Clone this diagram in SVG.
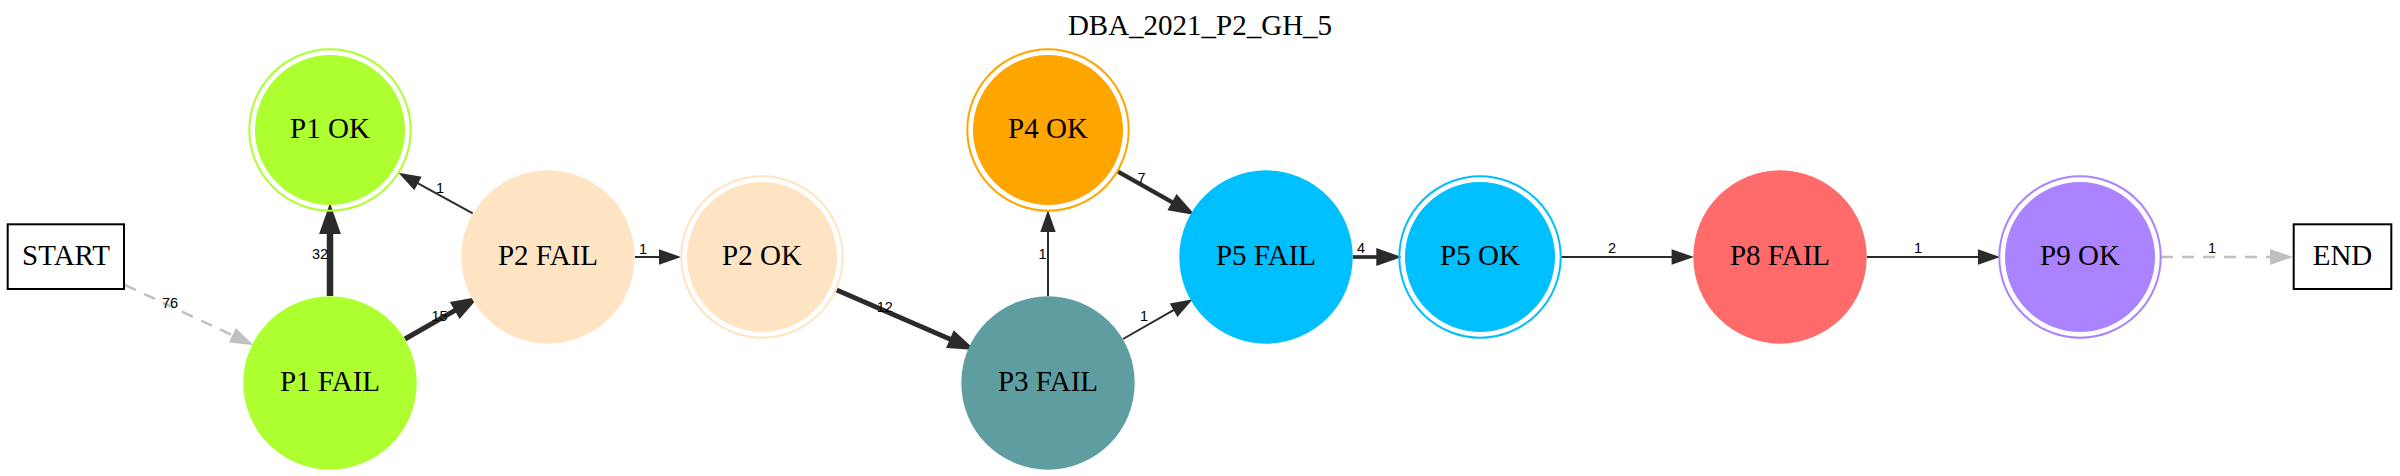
<svg xmlns="http://www.w3.org/2000/svg" width="2400" height="476" viewBox="0 0 2400 476">
<style>
  .lbl{font-family:"Liberation Serif","Times New Roman",serif;font-size:29px;fill:#000;text-anchor:middle}
  .elbl{font-family:"Liberation Sans",Arial,sans-serif;font-size:14.5px;fill:#000;text-anchor:middle}
  .e{fill:none;stroke:#2b2b2b}
  .ah{fill:#2b2b2b;stroke:#2b2b2b;stroke-linejoin:miter}
  .d{fill:none;stroke:#c0c0c0;stroke-width:2.5;stroke-dasharray:12 9}
  .dh{fill:#c0c0c0;stroke:#c0c0c0;stroke-width:2.5;stroke-linejoin:miter}
  .box{fill:#fff;stroke:#000;stroke-width:2}
</style>
<rect width="2400" height="476" fill="#fff"/>
<text class="lbl" x="1200" y="35">DBA_2021_P2_GH_5</text>

<g id="edges">
  <g id="e_start_p1fail">
    <path class="d" d="M125,285 L233.55,335.76"/>
    <polygon class="dh" points="249.86,343.39 230.88,341.47 236.22,330.05"/>
    <text class="elbl" x="170" y="307.5">76</text>
  </g>
  <g id="e_p1fail_p1ok">
    <path class="e" stroke-width="6.5" d="M330,296 L330,230.75"/>
    <polygon class="ah" stroke-width="6.5" points="330,212.75 336.3,230.75 323.7,230.75"/>
    <text class="elbl" x="320" y="259">32</text>
  </g>
  <g id="e_p1fail_p2fail">
    <path class="e" stroke-width="5" d="M405,339 L456.86,309.35"/>
    <polygon class="ah" stroke-width="5" points="472.49,300.42 459.99,314.82 453.73,303.88"/>
    <text class="elbl" x="439.5" y="321">15</text>
  </g>
  <g id="e_p2fail_p1ok">
    <path class="e" stroke-width="2" d="M472.7,213.3 L417.13,182.97"/>
    <polygon class="ah" stroke-width="2" points="401.33,174.34 420.15,177.44 414.11,188.5"/>
    <text class="elbl" x="440" y="193">1</text>
  </g>
  <g id="e_p2fail_p2ok">
    <path class="e" stroke-width="2" d="M635,257 L660,257"/>
    <polygon class="ah" stroke-width="2" points="678,257 660,263.3 660,250.7"/>
    <text class="elbl" x="643" y="254">1</text>
  </g>
  <g id="e_p2ok_p3fail">
    <path class="e" stroke-width="4.7" d="M836.7,290 L952.02,340.03"/>
    <polygon class="ah" stroke-width="4.7" points="968.53,347.19 949.51,345.81 954.53,334.25"/>
    <text class="elbl" x="884.7" y="311.7">12</text>
  </g>
  <g id="e_p3fail_p4ok">
    <path class="e" stroke-width="2" d="M1048,296 L1048,231"/>
    <polygon class="ah" stroke-width="2" points="1048,213 1054.3,231 1041.7,231"/>
    <text class="elbl" x="1042.5" y="259">1</text>
  </g>
  <g id="e_p4ok_p5fail">
    <path class="e" stroke-width="4.2" d="M1118,171.7 L1173.82,203.09"/>
    <polygon class="ah" stroke-width="4.2" points="1189.51,211.91 1170.73,208.58 1176.91,197.6"/>
    <text class="elbl" x="1141.5" y="183">7</text>
  </g>
  <g id="e_p3fail_p5fail">
    <path class="e" stroke-width="2" d="M1123,339 L1174.45,309.7"/>
    <polygon class="ah" stroke-width="2" points="1190.09,300.79 1177.57,315.17 1171.33,304.23"/>
    <text class="elbl" x="1144" y="321">1</text>
  </g>
  <g id="e_p5fail_p5ok">
    <path class="e" stroke-width="3.7" d="M1352.7,257 L1378.15,257"/>
    <polygon class="ah" stroke-width="3.7" points="1396.15,257 1378.15,263.3 1378.15,250.7"/>
    <text class="elbl" x="1361" y="253">4</text>
  </g>
  <g id="e_p5ok_p8fail">
    <path class="e" stroke-width="2.2" d="M1561.5,257 L1672.7,257"/>
    <polygon class="ah" stroke-width="2.2" points="1690.7,257 1672.7,263.3 1672.7,250.7"/>
    <text class="elbl" x="1612" y="253">2</text>
  </g>
  <g id="e_p8fail_p9ok">
    <path class="e" stroke-width="2" d="M1867,257 L1979,257"/>
    <polygon class="ah" stroke-width="2" points="1997,257 1979,263.3 1979,250.7"/>
    <text class="elbl" x="1918" y="253">1</text>
  </g>
  <g id="e_p9ok_end">
    <path class="d" d="M2161,257 L2271.25,257"/>
    <polygon class="dh" points="2289.25,257 2271.25,263.3 2271.25,250.7"/>
    <text class="elbl" x="2212" y="253">1</text>
  </g>
</g>

<g id="START">
  <rect class="box" x="7.7" y="224.3" width="116.3" height="64.7"/>
  <text class="lbl" x="66" y="265">START</text>
</g>
<g id="P1_OK">
  <circle cx="330" cy="130" r="80.7" fill="none" stroke="#adff2f" stroke-width="2"/>
  <circle cx="330" cy="130" r="74.5" fill="#adff2f" stroke="#adff2f" stroke-width="1"/>
  <text class="lbl" x="330" y="138">P1 OK</text>
</g>
<g id="P1_FAIL">
  <circle cx="330" cy="383" r="86.7" fill="#adff2f"/>
  <text class="lbl" x="330" y="391">P1 FAIL</text>
</g>
<g id="P2_FAIL">
  <circle cx="548" cy="257" r="86.7" fill="#ffe4c4"/>
  <text class="lbl" x="548" y="265">P2 FAIL</text>
</g>
<g id="P2_OK">
  <circle cx="762" cy="257" r="80.7" fill="none" stroke="#ffe4c4" stroke-width="2"/>
  <circle cx="762" cy="257" r="74.5" fill="#ffe4c4" stroke="#ffe4c4" stroke-width="1"/>
  <text class="lbl" x="762" y="265">P2 OK</text>
</g>
<g id="P4_OK">
  <circle cx="1048" cy="130" r="80.7" fill="none" stroke="#ffa500" stroke-width="2"/>
  <circle cx="1048" cy="130" r="74.5" fill="#ffa500" stroke="#ffa500" stroke-width="1"/>
  <text class="lbl" x="1048" y="138">P4 OK</text>
</g>
<g id="P3_FAIL">
  <circle cx="1048" cy="383" r="86.7" fill="#5f9ea0"/>
  <text class="lbl" x="1048" y="391">P3 FAIL</text>
</g>
<g id="P5_FAIL">
  <circle cx="1266" cy="257" r="86.7" fill="#00bfff"/>
  <text class="lbl" x="1266" y="265">P5 FAIL</text>
</g>
<g id="P5_OK">
  <circle cx="1480" cy="257" r="80.7" fill="none" stroke="#00bfff" stroke-width="2"/>
  <circle cx="1480" cy="257" r="74.5" fill="#00bfff" stroke="#00bfff" stroke-width="1"/>
  <text class="lbl" x="1480" y="265">P5 OK</text>
</g>
<g id="P8_FAIL">
  <circle cx="1780" cy="257" r="86.7" fill="#ff6a6a"/>
  <text class="lbl" x="1780" y="265">P8 FAIL</text>
</g>
<g id="P9_OK">
  <circle cx="2080" cy="257" r="80.7" fill="none" stroke="#ab82ff" stroke-width="2"/>
  <circle cx="2080" cy="257" r="74.5" fill="#ab82ff" stroke="#ab82ff" stroke-width="1"/>
  <text class="lbl" x="2080" y="265">P9 OK</text>
</g>
<g id="END">
  <rect class="box" x="2293.7" y="224.3" width="97.6" height="64.7"/>
  <text class="lbl" x="2342.5" y="265">END</text>
</g>
</svg>
